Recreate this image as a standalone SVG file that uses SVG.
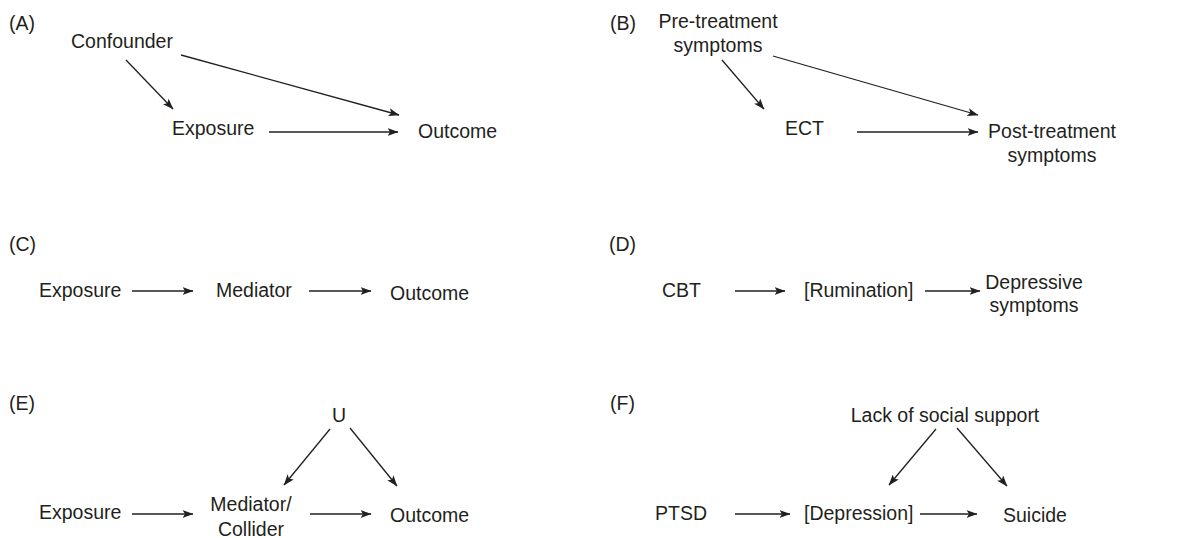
<svg xmlns="http://www.w3.org/2000/svg" width="1194" height="538" viewBox="0 0 1194 538">
<style>
text{font-family:"Liberation Sans",Arial,Helvetica,sans-serif;font-size:19.5px;fill:#231f20}
.c{text-anchor:middle}
.e{stroke:#231f20;stroke-width:1.3;fill:none;marker-end:url(#ah)}
</style>
<defs>
<marker id="ah" markerUnits="userSpaceOnUse" markerWidth="11" markerHeight="8" refX="10.5" refY="4" orient="auto">
<path d="M0,0 L11,4 L0,8 L2.5,4 z" fill="#231f20"/>
</marker>
</defs>
<rect width="1194" height="538" fill="#fff"/>
<g id="labels">
<text x="9" y="30">(A)</text>
<text x="610" y="30">(B)</text>
<text x="9" y="251">(C)</text>
<text x="609" y="251">(D)</text>
<text x="9" y="410">(E)</text>
<text x="610" y="410">(F)</text>
</g>
<g id="A-confounder"><text x="71" y="48">Confounder</text></g>
<g id="A-exposure"><text x="172" y="135">Exposure</text></g>
<g id="A-outcome"><text x="418" y="138">Outcome</text></g>
<g id="B-pre"><text class="c" x="718" y="28">Pre-treatment</text><text class="c" x="718" y="52">symptoms</text></g>
<g id="B-ect"><text x="785" y="135">ECT</text></g>
<g id="B-post"><text class="c" x="1052" y="138">Post-treatment</text><text class="c" x="1052" y="162">symptoms</text></g>
<g id="C-exposure"><text x="39" y="297">Exposure</text></g>
<g id="C-mediator"><text x="216" y="297">Mediator</text></g>
<g id="C-outcome"><text x="390" y="300">Outcome</text></g>
<g id="D-cbt"><text x="662" y="297">CBT</text></g>
<g id="D-rumination"><text x="804" y="297">[Rumination]</text></g>
<g id="D-depressive"><text class="c" x="1034" y="289">Depressive</text><text class="c" x="1034" y="312">symptoms</text></g>
<g id="E-u"><text class="c" x="339" y="422">U</text></g>
<g id="E-exposure"><text x="39" y="519">Exposure</text></g>
<g id="E-mediator"><text class="c" x="251" y="511">Mediator/</text><text class="c" x="251" y="536">Collider</text></g>
<g id="E-outcome"><text x="390" y="522">Outcome</text></g>
<g id="F-lack"><text class="c" x="945" y="422">Lack of social support</text></g>
<g id="F-ptsd"><text x="655" y="520">PTSD</text></g>
<g id="F-depression"><text x="804" y="520">[Depression]</text></g>
<g id="F-suicide"><text x="1003" y="522">Suicide</text></g>
<g id="connectors">
<line class="e" x1="126" y1="60" x2="173" y2="109"/>
<line class="e" x1="181" y1="55" x2="399" y2="115"/>
<line class="e" x1="269" y1="132" x2="398" y2="132"/>
<line class="e" x1="722" y1="60" x2="764" y2="109"/>
<line class="e" x1="773" y1="56" x2="978" y2="115"/>
<line class="e" x1="857" y1="132" x2="978" y2="132"/>
<line class="e" x1="132" y1="291" x2="193" y2="291"/>
<line class="e" x1="309" y1="291" x2="371" y2="291"/>
<line class="e" x1="735" y1="291" x2="785" y2="291"/>
<line class="e" x1="925" y1="291" x2="980" y2="291"/>
<line class="e" x1="330" y1="429" x2="284" y2="485"/>
<line class="e" x1="350" y1="428" x2="397" y2="486"/>
<line class="e" x1="132" y1="514" x2="193" y2="514"/>
<line class="e" x1="310" y1="514" x2="371" y2="514"/>
<line class="e" x1="936" y1="429" x2="889" y2="485"/>
<line class="e" x1="957" y1="428" x2="1007" y2="486"/>
<line class="e" x1="735" y1="514" x2="790" y2="514"/>
<line class="e" x1="920" y1="514" x2="977" y2="514"/>
</g>
</svg>
